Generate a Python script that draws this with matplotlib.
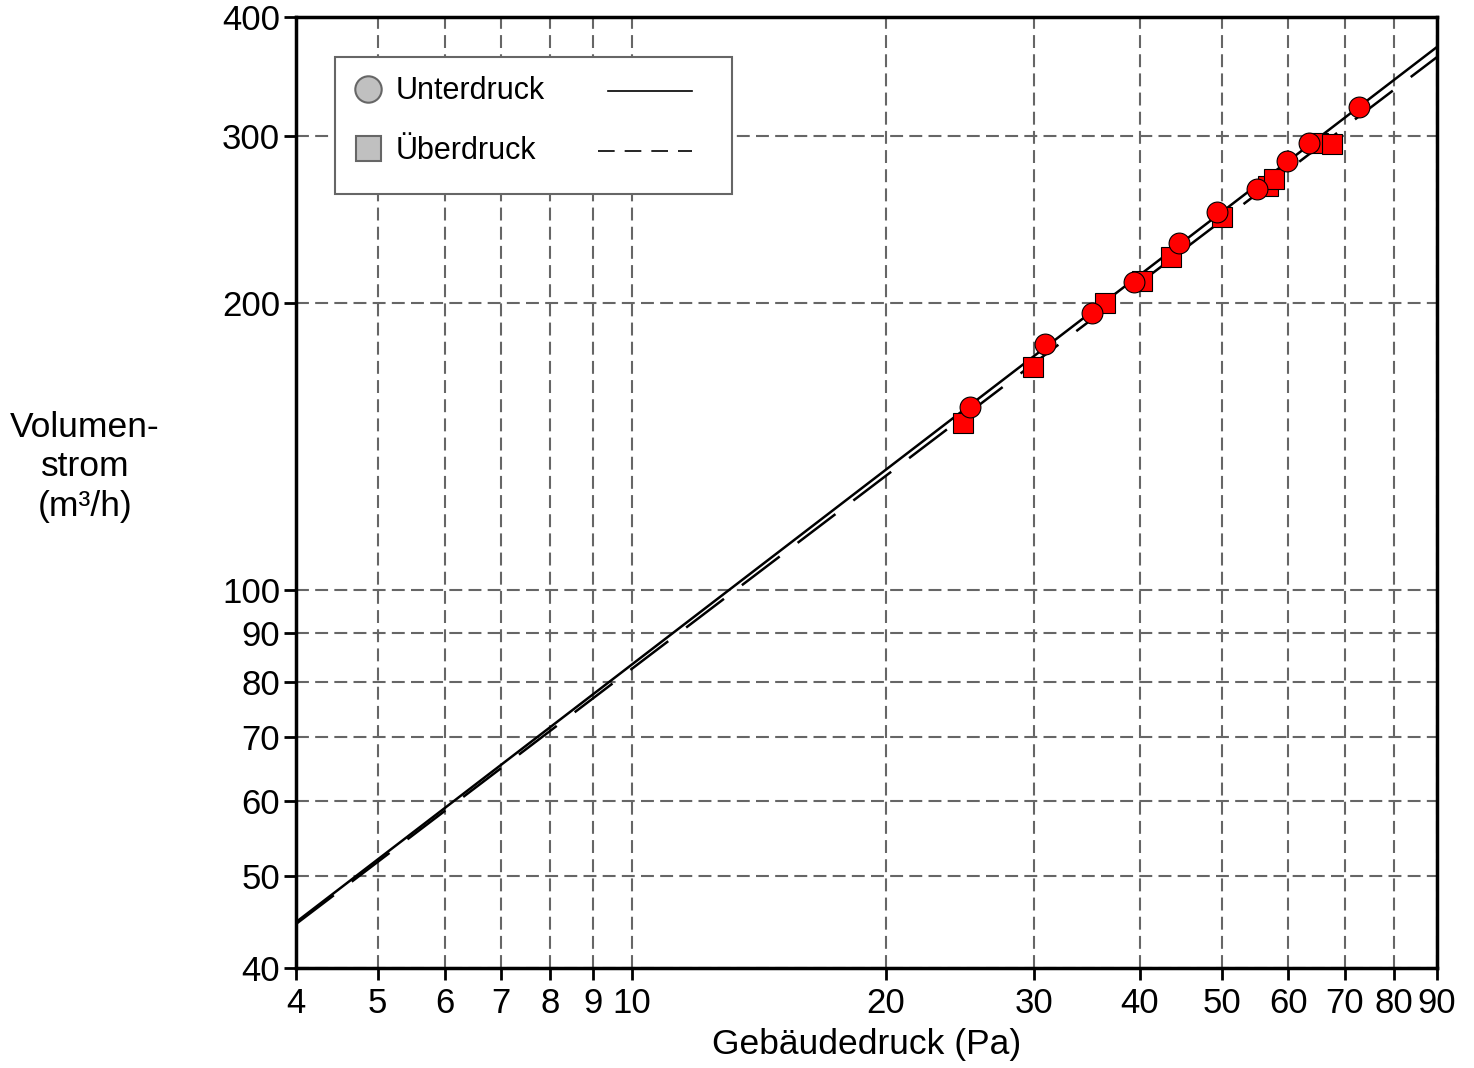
import matplotlib
matplotlib.use('Agg')
import matplotlib.pyplot as plt
from matplotlib.ticker import FixedLocator, NullLocator, FixedFormatter
from matplotlib.lines import Line2D
from matplotlib.patches import Rectangle

plt.rcParams['font.family'] = ['Liberation Sans', 'DejaVu Sans']

# Messwerte Unterdruck (Kreise)
unter_p = [25.2, 30.9, 35.1, 39.4, 44.5, 49.4, 55.1, 59.8, 63.4, 72.8]
unter_v = [155.5, 181.3, 195.2, 210.6, 231.6, 249.5, 263.6, 282.3, 295.0, 321.4]

# Messwerte Überdruck (Quadrate)
ueber_p = [24.7, 29.9, 36.4, 40.2, 43.6, 50.0, 56.8, 57.7, 65.1, 67.5]
ueber_v = [149.8, 171.3, 200.0, 211.3, 223.5, 246.3, 265.7, 270.0, 294.6, 294.2]

# Ausgleichsgeraden (Endpunkte)
fit_p = [4, 90]
unter_fit_v = [44.7, 372]
ueber_fit_v = [44.5, 363]

xticks = [4, 5, 6, 7, 8, 9, 10, 20, 30, 40, 50, 60, 70, 80, 90]
yticks = [40, 50, 60, 70, 80, 90, 100, 200, 300, 400]

fig = plt.figure(figsize=(14.74, 10.68), dpi=100)
ax = fig.add_axes([0.2008, 0.0936, 0.7741, 0.8905])
ax.set_xscale('log')
ax.set_yscale('log')
ax.set_xlim(4, 90)
ax.set_ylim(40, 400)

ax.xaxis.set_major_locator(FixedLocator(xticks))
ax.xaxis.set_major_formatter(FixedFormatter([str(t) for t in xticks]))
ax.xaxis.set_minor_locator(NullLocator())
ax.yaxis.set_major_locator(FixedLocator(yticks))
ax.yaxis.set_major_formatter(FixedFormatter([str(t) for t in yticks]))
ax.yaxis.set_minor_locator(NullLocator())
ax.tick_params(axis='both', direction='out', length=8.5, width=2, labelsize=25)
ax.tick_params(axis='x', pad=5)
ax.tick_params(axis='y', pad=3)

ax.grid(True, color='#666666', linestyle=(0, (6.2, 3)), linewidth=1.5)
for s in ax.spines.values():
    s.set_linewidth(2.5)

ax.plot(fit_p, unter_fit_v, color='black', lw=1.8, zorder=3)
ax.plot(fit_p, ueber_fit_v, color='black', lw=1.8, linestyle=(0, (19, 9)), zorder=3)
ax.plot(ueber_p, ueber_v, 's', ms=14, mfc='red', mec='black', mew=0.8, zorder=4)
ax.plot(unter_p, unter_v, 'o', ms=15, mfc='red', mec='black', mew=0.8, zorder=5)

ax.set_xlabel('Gebäudedruck (Pa)', fontsize=25.5, labelpad=6)
ax.text(-0.185, 0.527, 'Volumen-\nstrom\n(m³/h)', transform=ax.transAxes,
        ha='center', va='center', fontsize=25.5, linespacing=1.25)

# Legende von Hand
ax.add_patch(Rectangle((0.0342, 0.8139), 0.3479, 0.1441, transform=ax.transAxes,
                       facecolor='white', edgecolor='#666666', lw=1.5, zorder=6))
ax.add_line(Line2D([0.0631], [0.9243], transform=ax.transAxes, marker='o', ms=19,
                   mfc='#c0c0c0', mec='#666666', mew=1.5, zorder=7))
ax.add_line(Line2D([0.0631], [0.8622], transform=ax.transAxes, marker='s', ms=18,
                   mfc='#c0c0c0', mec='#666666', mew=1.5, zorder=7))
ax.text(0.0876, 0.922, 'Unterdruck', transform=ax.transAxes, va='center',
        fontsize=22, zorder=7)
ax.text(0.0876, 0.859, 'Überdruck', transform=ax.transAxes, va='center',
        fontsize=22, zorder=7)
ax.add_line(Line2D([0.2734, 0.3471], [0.922, 0.922], transform=ax.transAxes,
                   color='black', lw=1.2, zorder=7))
ax.add_line(Line2D([0.2647, 0.3471], [0.859, 0.859], transform=ax.transAxes,
                   color='black', lw=1.2, linestyle=(0, (10, 6)), zorder=7))

fig.savefig('out.png', dpi=100)
